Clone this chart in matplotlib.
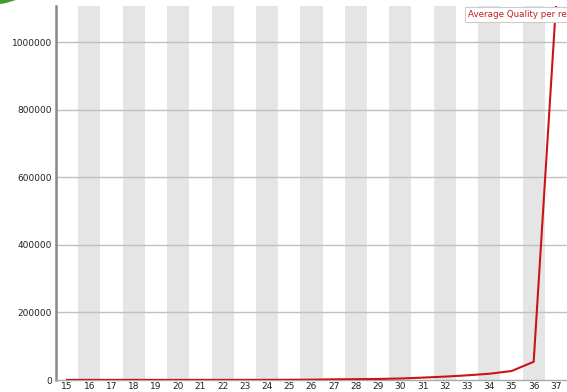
import matplotlib
matplotlib.use("Agg")
import matplotlib.pyplot as plt
from matplotlib.patches import Polygon

quality = list(range(15, 38))
counts = [300, 300, 300, 300, 300, 300, 300, 300, 300, 400, 600, 1000,
          2000, 2500, 3000, 4500, 7000, 10000, 13800, 18500, 26500, 54000, 1107000]
yticks = [0, 200000, 400000, 600000, 800000, 1000000]
legend_label = "Average Quality per read"

W, H = 567, 392
fig = plt.figure(figsize=(W / 100, H / 100), dpi=100)
ax = fig.add_axes([56 / W, 12 / H, 1 - 56 / W, (380 - 6) / H])

ax.set_xlim(quality[0] - 0.5, quality[-1] + 0.5)
ax.set_ylim(0, 1108000)

for q in quality:
    if q % 2 == 0:
        ax.axvspan(q - 0.5, q + 0.5, color="#e5e5e5", lw=0, zorder=0)

for y in yticks[1:]:
    ax.axhline(y, color="#c0c0c0", lw=1, zorder=1)

ax.plot(quality, counts, color="#cc1418", lw=1.5, zorder=3)

ax.set_xticks(quality)
ax.set_xticklabels([str(q) for q in quality])
ax.set_yticks(yticks)
ax.set_yticklabels([str(y) for y in yticks])
ax.tick_params(axis="both", length=0, labelsize=6.5, colors="#222222")
ax.tick_params(axis="x", pad=1.5)
ax.tick_params(axis="y", pad=3)

for s in ["top", "right"]:
    ax.spines[s].set_visible(False)
ax.spines["left"].set_color("#888888")
ax.spines["left"].set_linewidth(1.8)
ax.spines["bottom"].set_color("#aaaaaa")
ax.spines["bottom"].set_linewidth(1)

fig.text(468 / W, 1 - 14.5 / H, legend_label, color="#c02020", fontsize=6.3,
         va="center", ha="left",
         bbox=dict(boxstyle="square,pad=0.35", fc="white", ec="#cccccc", lw=0.8))

# green corner artifact
fig.patches.append(Polygon([[0, 1], [16 / W, 1], [6 / W, 1 - 3 / H], [0, 1 - 4 / H]],
                           closed=True, transform=fig.transFigure,
                           color="#3f9a30", lw=0, figure=fig))

fig.savefig("out.png", dpi=100)
